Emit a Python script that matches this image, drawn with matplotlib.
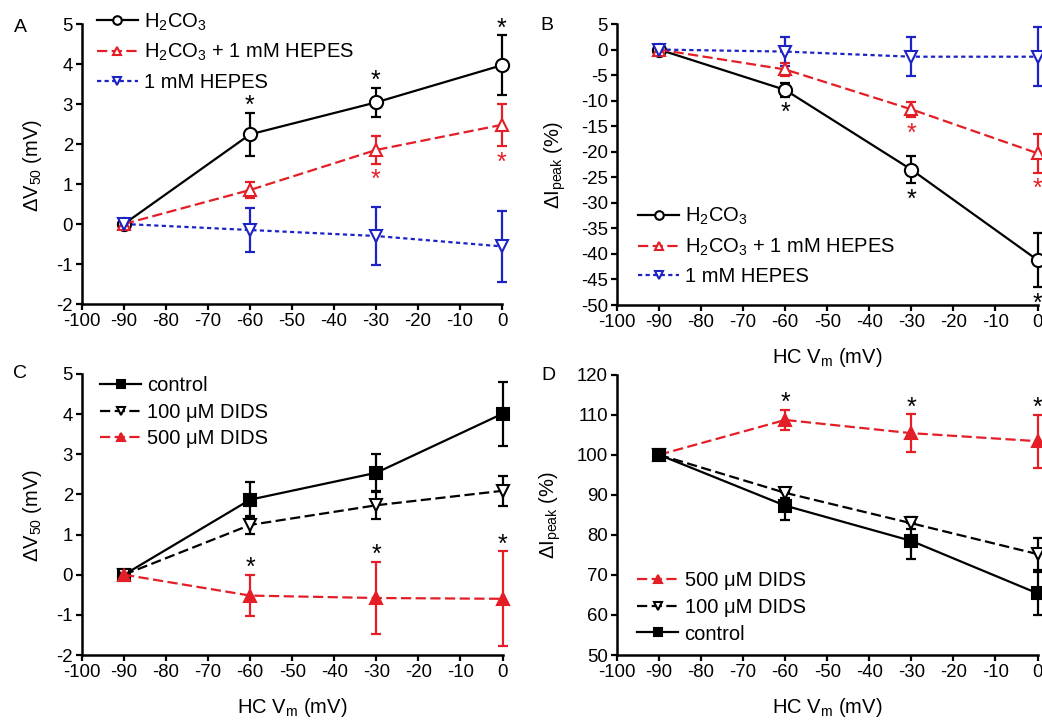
import matplotlib
matplotlib.use("Agg")
import matplotlib.pyplot as plt

plt.rcParams['font.family'] = ['Liberation Sans', 'DejaVu Sans']
plt.rcParams['mathtext.fontset'] = 'custom'
plt.rcParams['mathtext.rm'] = 'Liberation Sans'
plt.rcParams['mathtext.it'] = 'Liberation Sans:italic'
plt.rcParams['mathtext.default'] = 'regular'
plt.rcParams['axes.unicode_minus'] = False

# holding potential (mV)
vm = [-90, -60, -30, 0]
xticks = list(range(-100, 1, 10))

# panel A: dV50 (mV)
a_h2co3 = [0, 2.24, 3.04, 3.97]
a_h2co3_err = [0, 0.54, 0.36, 0.75]
a_h2co3_hepes = [0, 0.85, 1.85, 2.48]
a_h2co3_hepes_err = [0, 0.20, 0.34, 0.53]
a_hepes = [0, -0.15, -0.30, -0.56]
a_hepes_err = [0, 0.54, 0.72, 0.88]

# panel B: dIpeak (%)
b_h2co3 = [0, -7.9, -23.5, -41.2]
b_h2co3_err = [0, 1.3, 2.7, 5.3]
b_h2co3_hepes = [0, -3.9, -11.7, -20.3]
b_h2co3_hepes_err = [0, 1.2, 1.5, 3.8]
b_hepes = [0, -0.4, -1.4, -1.4]
b_hepes_err = [0, 2.9, 3.8, 5.8]

# panel C: dV50 (mV)
c_control = [0, 1.87, 2.54, 4.01]
c_control_err = [0, 0.45, 0.46, 0.80]
c_dids100 = [0, 1.24, 1.73, 2.09]
c_dids100_err = [0, 0.22, 0.33, 0.37]
c_dids500 = [0, -0.52, -0.58, -0.60]
c_dids500_err = [0, 0.51, 0.90, 1.18]

# panel D: dIpeak (%)
d_dids500 = [100, 108.7, 105.4, 103.4]
d_dids500_err = [0, 2.6, 4.7, 6.6]
d_dids100 = [100, 90.5, 82.9, 75.2]
d_dids100_err = [0, 1.2, 1.5, 4.0]
d_control = [100, 87.3, 78.5, 65.4]
d_control_err = [0, 3.5, 4.5, 5.4]

# significance marks
sig_a_black = [False, True, True, True]
sig_a_red = [False, False, True, True]
sig_b_black = [False, True, True, True]
sig_b_red = [False, False, True, True]
sig_c = [False, True, True, True]
sig_d = [False, True, True, True]

RED = '#e41e26'
BLUE = '#1c22c4'
W, H = 1042, 723
LABEL_FS = 14.5

fig = plt.figure(figsize=(W / 100, H / 100), dpi=100)


def make_axes(left, top, right, bottom, ylim, yticks):
    ax = fig.add_axes([left / W, 1 - bottom / H, (right - left) / W, (bottom - top) / H])
    ax.set_xlim(-100, 0)
    ax.set_ylim(*ylim)
    ax.set_xticks(xticks)
    ax.set_yticks(yticks)
    for s in ['top', 'right']:
        ax.spines[s].set_visible(False)
    for s in ['left', 'bottom']:
        ax.spines[s].set_linewidth(1.8)
    ax.tick_params(direction='out', length=4.5, width=1.6, labelsize=13.4, pad=2)
    return ax


def series(ax, y, err, color, marker, face, dashes, label, ms):
    eb = ax.errorbar(vm, y, yerr=err, fmt='none', ecolor=color, elinewidth=1.6,
                     capsize=3.8, capthick=1.6, zorder=2)
    for art in eb.get_children():
        art.set_clip_on(False)
    line, = ax.plot(vm, y, color=color, marker=marker, mfc=face, mec=color, ms=ms,
                    mew=1.5, lw=1.6, label=label, clip_on=False, zorder=3)
    if dashes:
        line.set_dashes(dashes)
    return line


def stars(ax, y, err, sig, side, color):
    for x, yy, e, s in zip(vm, y, err, sig):
        if not s:
            continue
        if side == 'above':
            ax.annotate('$*$', (x, yy + e), xytext=(0, 5.6), textcoords='offset points',
                        ha='center', va='center', fontsize=18, color=color,
                        annotation_clip=False)
        else:
            ax.annotate('$*$', (x, yy - e), xytext=(0, -11.2), textcoords='offset points',
                        ha='center', va='center', fontsize=18, color=color,
                        annotation_clip=False)


def legend(ax, handles, loc, anchor, spacing):
    ax.legend(handles=handles, loc=loc, bbox_to_anchor=anchor, frameon=False,
              fontsize=LABEL_FS, handlelength=2.05, handletextpad=0.3, labelspacing=spacing,
              borderaxespad=0, borderpad=0, markerscale=0.65)


h2co3 = 'H$_2$CO$_3$'
dash = (4.6, 2.0)
dot = (1.9, 1.5)

# A
ax = make_axes(82, 24, 502, 304, (-2, 5), range(-2, 6))
l1 = series(ax, a_h2co3, a_h2co3_err, 'black', 'o', 'white', None, h2co3, 9.5)
l2 = series(ax, a_h2co3_hepes, a_h2co3_hepes_err, RED, '^', 'white', dash, h2co3 + ' + 1 mM HEPES', 9)
l3 = series(ax, a_hepes, a_hepes_err, BLUE, 'v', 'white', dot, '1 mM HEPES', 9)
stars(ax, a_h2co3, a_h2co3_err, sig_a_black, 'above', 'black')
stars(ax, a_h2co3_hepes, a_h2co3_hepes_err, sig_a_red, 'below', RED)
legend(ax, [l1, l2, l3], 'upper left', (0.035, 1.045), 0.47)

# B
ax = make_axes(617, 24, 1037.5, 305, (-50, 5), range(-50, 6, 5))
l1 = series(ax, b_h2co3, b_h2co3_err, 'black', 'o', 'white', None, h2co3, 9.5)
l2 = series(ax, b_h2co3_hepes, b_h2co3_hepes_err, RED, '^', 'white', dash, h2co3 + ' + 1 mM HEPES', 9)
l3 = series(ax, b_hepes, b_hepes_err, BLUE, 'v', 'white', dot, '1 mM HEPES', 9)
stars(ax, b_h2co3, b_h2co3_err, sig_b_black, 'below', 'black')
stars(ax, b_h2co3_hepes, b_h2co3_hepes_err, sig_b_red, 'below', RED)
legend(ax, [l1, l2, l3], 'lower left', (0.05, 0.066), 0.47)
ax.set_xlabel('HC V$_m$ (mV)', fontsize=LABEL_FS, labelpad=11)

# C
ax = make_axes(82, 374, 502.5, 655, (-2, 5), range(-2, 6))
l1 = series(ax, c_control, c_control_err, 'black', 's', 'black', None, 'control', 8)
l2 = series(ax, c_dids100, c_dids100_err, 'black', 'v', 'white', dash, '100 \u03bcM DIDS', 9)
l3 = series(ax, c_dids500, c_dids500_err, RED, '^', RED, dash, '500 \u03bcM DIDS', 8)
stars(ax, c_dids500, c_dids500_err, sig_c, 'above', 'black')
legend(ax, [l1, l2, l3], 'upper left', (0.043, 0.993), 0.38)
ax.set_xlabel('HC V$_m$ (mV)', fontsize=LABEL_FS, labelpad=11)

# D
ax = make_axes(617, 374.7, 1037.5, 655, (50, 120), range(50, 121, 10))
l3 = series(ax, d_dids500, d_dids500_err, RED, '^', RED, dash, '500 \u03bcM DIDS', 8)
l2 = series(ax, d_dids100, d_dids100_err, 'black', 'v', 'white', dash, '100 \u03bcM DIDS', 9)
l1 = series(ax, d_control, d_control_err, 'black', 's', 'black', None, 'control', 8)
stars(ax, d_dids500, d_dids500_err, sig_d, 'above', 'black')
legend(ax, [l3, l2, l1], 'lower left', (0.048, 0.041), 0.38)
ax.set_xlabel('HC V$_m$ (mV)', fontsize=LABEL_FS, labelpad=11)

# y labels and panel letters
fig.text(33 / W, 1 - 165 / H, '\u0394V$_{50}$ (mV)', rotation=90, ha='center', va='center', fontsize=LABEL_FS)
fig.text(555 / W, 1 - 165 / H, '\u0394I$_{peak}$ (%)', rotation=90, ha='center', va='center', fontsize=LABEL_FS)
fig.text(33 / W, 1 - 515 / H, '\u0394V$_{50}$ (mV)', rotation=90, ha='center', va='center', fontsize=LABEL_FS)
fig.text(550 / W, 1 - 515 / H, '\u0394I$_{peak}$ (%)', rotation=90, ha='center', va='center', fontsize=LABEL_FS)

for lab, x, y in [('A', 20, 28), ('B', 547, 25), ('C', 20, 373), ('D', 548, 375)]:
    fig.text(x / W, 1 - y / H, lab, ha='center', va='center', fontsize=14)

fig.savefig('out.png', dpi=100)
